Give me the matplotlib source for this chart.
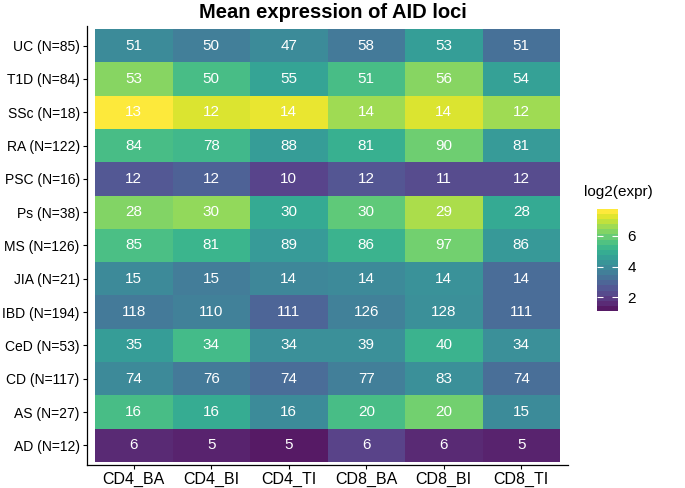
import matplotlib
matplotlib.use("Agg")
import matplotlib.pyplot as plt
import numpy as np
from matplotlib.colors import Normalize
from matplotlib import cm

plt.rcParams['font.family'] = ['Liberation Sans', 'DejaVu Sans']

diseases = ["UC (N=85)", "T1D (N=84)", "SSc (N=18)", "RA (N=122)", "PSC (N=16)",
            "Ps (N=38)", "MS (N=126)", "JIA (N=21)", "IBD (N=194)", "CeD (N=53)",
            "CD (N=117)", "AS (N=27)", "AD (N=12)"]
cell_types = ["CD4_BA", "CD4_BI", "CD4_TI", "CD8_BA", "CD8_BI", "CD8_TI"]

# number of loci shown in each cell (top row UC -> bottom row AD)
n_cd4_ba = [51, 53, 13, 84, 12, 28, 85, 15, 118, 35, 74, 16, 6]
n_cd4_bi = [50, 50, 12, 78, 12, 30, 81, 15, 110, 34, 76, 16, 5]
n_cd4_ti = [47, 55, 14, 88, 10, 30, 89, 14, 111, 34, 74, 16, 5]
n_cd8_ba = [58, 51, 14, 81, 12, 30, 86, 14, 126, 39, 77, 20, 6]
n_cd8_bi = [53, 56, 14, 90, 11, 29, 97, 14, 128, 40, 83, 20, 6]
n_cd8_ti = [51, 54, 12, 81, 12, 28, 86, 14, 111, 34, 74, 15, 5]

# mean log2 expression (cell colour), estimated from the colour scale
e_cd4_ba = [3.96, 6.43, 7.76, 5.50, 2.50, 6.36, 5.56, 3.90, 3.43, 4.50, 3.90, 5.50, 1.43]
e_cd4_bi = [3.56, 5.50, 7.36, 5.36, 2.76, 6.56, 5.23, 3.50, 3.63, 5.43, 3.43, 4.96, 1.30]
e_cd4_ti = [3.96, 4.70, 7.50, 4.50, 2.03, 4.90, 4.43, 3.83, 2.83, 4.10, 3.03, 3.96, 1.10]
e_cd8_ba = [3.43, 5.50, 6.70, 5.10, 2.43, 5.90, 5.16, 3.90, 3.63, 4.10, 3.56, 5.50, 1.97]
e_cd8_bi = [4.56, 6.43, 7.36, 6.10, 2.17, 6.83, 6.16, 4.16, 4.10, 5.16, 4.10, 6.16, 1.43]
e_cd8_ti = [3.16, 4.63, 6.70, 4.43, 2.17, 4.90, 4.36, 3.03, 3.03, 4.10, 3.10, 3.96, 1.30]

cbar_ticks = [2, 4, 6]

counts = np.array([n_cd4_ba, n_cd4_bi, n_cd4_ti, n_cd8_ba, n_cd8_bi, n_cd8_ti]).T
expr = np.array([e_cd4_ba, e_cd4_bi, e_cd4_ti, e_cd8_ba, e_cd8_bi, e_cd8_ti]).T

nrow, ncol = expr.shape
norm = Normalize(vmin=expr.min(), vmax=expr.max())
alpha = 0.9

fig = plt.figure(figsize=(6.85, 4.88), dpi=100)
ax = fig.add_axes([87.3 / 685, 1 - 465.3 / 488, 480.5 / 685, 439.6 / 488])

xe = np.arange(ncol + 1) - 0.5
ye = np.arange(nrow + 1) - 0.5
ax.pcolormesh(xe, ye, expr, cmap="viridis", norm=norm, alpha=alpha,
              edgecolors="none", linewidth=0)

for i in range(nrow):
    for j in range(ncol):
        ax.text(j, i, str(counts[i, j]), ha="center", va="center",
                color="white", fontsize=11)

ax.set_xlim(-0.6, ncol - 0.4)
ax.set_ylim(nrow - 0.4, -0.6)
ax.set_xticks(range(ncol))
ax.set_xticklabels(cell_types, fontsize=11.5, color="black")
ax.set_yticks(range(nrow))
ax.set_yticklabels(diseases, fontsize=10, color="black")
ax.tick_params(length=3, width=0.8, color="black")
ax.tick_params(axis="x", pad=1.5)
ax.tick_params(axis="y", pad=2.5)
for s in ["top", "right"]:
    ax.spines[s].set_visible(False)
for s in ["left", "bottom"]:
    ax.spines[s].set_linewidth(0.9)

fig.text(332.5 / 685, 1 - 12 / 488, "Mean expression of AID loci",
         ha="center", va="center", fontsize=14.5, fontweight="bold")

# colour bar
cax = fig.add_axes([597 / 685, 1 - 311 / 488, 21 / 685, 102 / 488])
sm = cm.ScalarMappable(norm=norm, cmap=plt.get_cmap("viridis").resampled(20))
cb = fig.colorbar(sm, cax=cax, ticks=cbar_ticks)
cb.solids.set_alpha(alpha)
cb.outline.set_visible(False)
cax.yaxis.set_ticks_position("both")
cax.tick_params(direction="in", length=4, width=0.8, color="white",
                labelsize=11, pad=7, labelright=True, labelleft=False)
fig.text(618 / 685, 1 - 192 / 488, "log2(expr)", ha="center", va="center",
         fontsize=11)

fig.savefig("out.png", dpi=100)
